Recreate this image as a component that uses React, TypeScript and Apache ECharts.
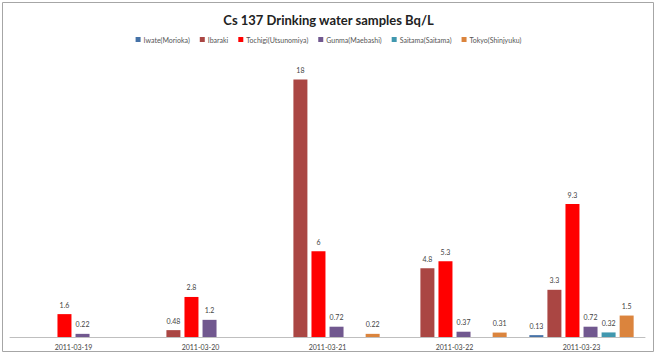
import React, { useEffect, useRef } from "react";
import * as echarts from "echarts";

const categories = ["2011-03-19", "2011-03-20", "2011-03-21", "2011-03-22", "2011-03-23"];
const seriesNames = ["Iwate(Morioka)", "Ibaraki", "Tochigi(Utsunomiya)", "Gunma(Maebashi)", "Saitama(Saitama)", "Tokyo(Shinjyuku)"];
const iwate = [null, null, null, null, 0.13];
const ibaraki = [null, 0.48, 18, 4.8, 3.3];
const tochigi = [1.6, 2.8, 6, 5.3, 9.3];
const gunma = [0.22, 1.2, 0.72, 0.37, 0.72];
const saitama = [null, null, null, null, 0.32];
const tokyo = [null, null, 0.22, 0.31, 1.5];
const colors = ["#4572A7", "#AA4643", "#FF0000", "#71588F", "#4198AF", "#DB843D"];

export default function App() {
  const ref = useRef<HTMLDivElement>(null);
  useEffect(() => {
    if (!ref.current) return;
    const chart = echarts.init(ref.current, undefined, { renderer: "svg" });
    const data = [iwate, ibaraki, tochigi, gunma, saitama, tokyo];
    chart.setOption({
      animation: false,
      textStyle: { fontFamily: "Lato" },
      title: {
        text: "Cs 137 Drinking water samples Bq/L",
        left: "center",
        top: 8,
        textStyle: { fontFamily: "Lato", fontSize: 13, fontWeight: "bold", color: "#222" },
      },
      legend: {
        data: seriesNames,
        top: 31,
        left: "center",
        itemWidth: 5,
        itemHeight: 5,
        itemGap: 10,
        icon: "rect",
        textStyle: { fontFamily: "Lato", fontSize: 7, color: "#555", padding: [0, 0, 0, -2] },
      },
      graphic: [
        {
          type: "rect",
          shape: { x: 2.5, y: 2.5, width: 651, height: 349 },
          style: { fill: "none", stroke: "#a6a6a6", lineWidth: 1 },
          silent: true,
        },
      ],
      grid: { left: 10, right: 12, top: 51, bottom: 19, containLabel: false },
      xAxis: {
        type: "category",
        data: categories,
        axisLine: { lineStyle: { color: "#bfbfbf" } },
        axisTick: { show: false },
        axisLabel: { fontFamily: "Lato", fontSize: 7, color: "#444", margin: 6 },
      },
      yAxis: { type: "value", min: 0, max: 20, show: false, splitLine: { show: false } },
      series: seriesNames.map((name, i) => ({
        name,
        type: "bar",
        data: data[i],
        barWidth: 14,
        barGap: "29%",
        itemStyle: { color: colors[i] },
        label: {
          show: true,
          position: "top",
          distance: 6,
          fontFamily: "Lato",
          fontSize: 7,
          color: "#444",
        },
      })),
    });
    return () => chart.dispose();
  }, []);
  return <div ref={ref} style={{ width: 657, height: 356, position: "absolute", left: 0, top: 0 }} />;
}
